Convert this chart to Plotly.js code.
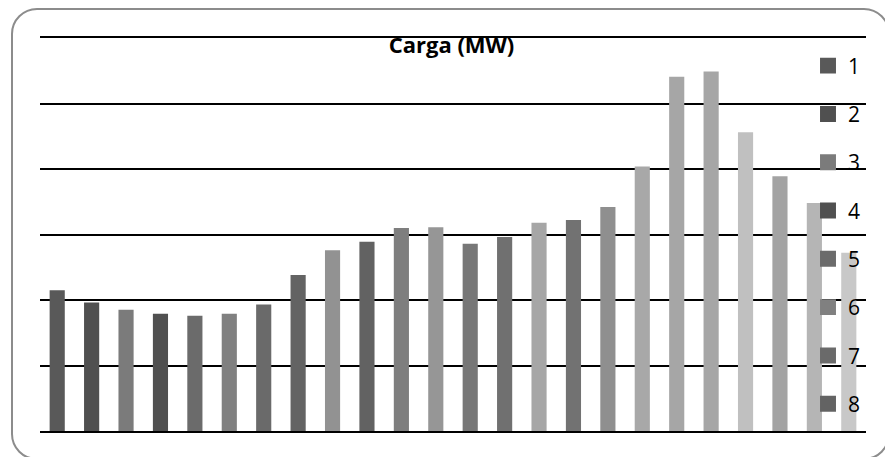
<!DOCTYPE html>
<html>
<head>
<meta charset="utf-8">
<script src="https://cdn.plot.ly/plotly-3.0.1.min.js"></script>
<style>
  html, body { margin: 0; padding: 0; background: #ffffff; overflow: hidden; }
  #chart { position: absolute; left: 0; top: 0; width: 885px; height: 457px; }
  #frame { position: absolute; left: 11px; top: 8px; width: 875px; height: 448px;
           border: 2px solid #8c8c8c; border-radius: 26px; pointer-events: none; z-index: 5; }
</style>
</head>
<body>
<div id="chart"></div>
<div id="frame"></div>
<script>
// Categories (hours) and load values (MW)
const categories = ['1','2','3','4','5','6','7','8','9','10','11','12',
                    '13','14','15','16','17','18','19','20','21','22','23','24'];
const carga = [215, 196, 185, 179, 176, 179, 193, 238, 276, 289, 310, 311,
               286, 296, 318, 322, 342, 404, 541, 549, 456, 389, 348, 272];
const barColors = ['#595959','#505050','#7b7b7b','#505050','#6b6b6b','#808080','#6a6a6a','#636363',
                   '#929292','#626262','#7e7e7e','#969696','#777777','#707070','#a6a6a6','#727272',
                   '#8f8f8f','#a8a8a8','#a6a6a6','#a6a6a6','#c0c0c0','#a3a3a3','#b5b5b5','#c8c8c8'];
const visibleLegendItems = 8;

const traces = categories.map((c, i) => ({
  type: 'bar',
  name: c,
  x: [c],
  y: [carga[i]],
  marker: { color: barColors[i], line: { width: 0 } },
  legendgroup: 'g' + c,
  showlegend: i < visibleLegendItems,
  hoverinfo: 'x+y'
}));

const layout = {
  width: 885, height: 457,
  margin: { l: 40, r: 19, t: 37.5, b: 25.5, pad: 0 },
  paper_bgcolor: 'rgba(0,0,0,0)',
  plot_bgcolor: 'rgba(0,0,0,0)',
  barmode: 'overlay',
  bargap: 0.56,
  font: { family: 'Open Sans, sans-serif', color: '#000000' },
  title: {
    text: '<b>Carga (MW)</b>',
    font: { family: 'Open Sans, sans-serif', size: 22, color: '#000000' },
    x: (451.5 - 40) / 826, xanchor: 'center', xref: 'paper',
    y: 1 - 45 / 457, yanchor: 'middle', yref: 'container'
  },
  xaxis: {
    type: 'category',
    categoryorder: 'array', categoryarray: categories,
    showticklabels: false, ticks: '',
    showgrid: false, zeroline: false,
    showline: true, mirror: true, linecolor: '#000000', linewidth: 2,
    fixedrange: true
  },
  yaxis: {
    range: [0, 600], dtick: 100, tick0: 0,
    showticklabels: false, ticks: '',
    showgrid: true, gridcolor: '#000000', gridwidth: 2,
    zeroline: false, showline: false,
    fixedrange: true
  },
  legend: {
    x: (808 - 40) / 826, xanchor: 'left', xref: 'paper',
    y: 1 - (45 - 37.5) / 394, yanchor: 'top',
    bgcolor: 'rgba(0,0,0,0)', borderwidth: 0,
    font: { family: 'Open Sans, sans-serif', size: 21, color: '#000000' },
    tracegroupgap: 18,
    traceorder: 'grouped',
    itemclick: false, itemdoubleclick: false
  },
  showlegend: true
};

Plotly.newPlot('chart', traces, layout, { displayModeBar: false, staticPlot: true }).then(gd => {
  // enlarge legend swatches to match the reference's squares
  gd.querySelectorAll('.legendpoints path').forEach(p => {
    const t = p.getAttribute('transform') || '';
    p.setAttribute('transform', (t + ' scale(1.33)').trim());
  });
});
</script>
</body>
</html>
